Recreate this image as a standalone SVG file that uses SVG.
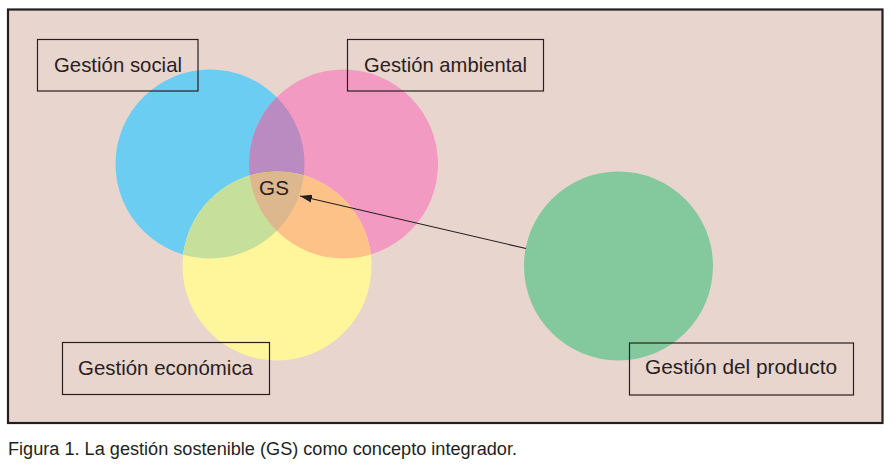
<svg xmlns="http://www.w3.org/2000/svg" width="894" height="471" viewBox="0 0 894 471">
<style>
.lbl{font-family:"Liberation Sans",Arial,sans-serif;font-size:20.6px;fill:#2a1e1e}
.box{fill:none;stroke:#2a1e1e;stroke-width:1.2}
.cap{font-family:"Liberation Sans",Arial,sans-serif;font-size:18px;fill:#231f20}
.conn{stroke:#231f20;stroke-width:1.1;fill:none}
</style>
<defs>
<clipPath id="cBlue"><circle cx="210" cy="164" r="94.5"/></clipPath>
<clipPath id="cPink"><circle cx="343.5" cy="164" r="94.5"/></clipPath>
<clipPath id="cBY" clip-path="url(#cBlue)"><circle cx="277" cy="266" r="94.5"/></clipPath>
<marker id="arr" viewBox="0 0 12 8" refX="12" refY="4" markerWidth="12" markerHeight="8" markerUnits="userSpaceOnUse" orient="auto">
<path d="M0,0 L12,4 L0,8 z" fill="#231f20"/>
</marker>
</defs>
<rect x="0" y="0" width="894" height="471" fill="#ffffff"/>
<rect id="frame" x="8" y="9.5" width="874.5" height="413.5" fill="#e8d5ce" stroke="#231f20" stroke-width="2.2"/>

<g id="social">
<circle cx="210" cy="164" r="94.5" fill="#6ccdf3"/>
<rect class="box" x="37.5" y="39.5" width="160.5" height="51.5"/>
<text class="lbl" x="54" y="72" textLength="128" lengthAdjust="spacingAndGlyphs">Gestión social</text>
</g>
<g id="ambiental">
<circle cx="343.5" cy="164" r="94.5" fill="#f39ac2"/>
<rect class="box" x="347.5" y="39.5" width="196" height="51.5"/>
<text class="lbl" x="364" y="72" textLength="163" lengthAdjust="spacingAndGlyphs">Gestión ambiental</text>
</g>
<g id="economica">
<circle cx="277" cy="266" r="94.5" fill="#fff59b"/>
<rect class="box" x="62.5" y="342.5" width="207" height="52"/>
<text class="lbl" x="78" y="375" textLength="175" lengthAdjust="spacingAndGlyphs">Gestión económica</text>
</g>
<g id="overlaps">
<circle cx="343.5" cy="164" r="94.5" fill="#ba8bc1" clip-path="url(#cBlue)"/>
<circle cx="277" cy="266" r="94.5" fill="#c6e09c" clip-path="url(#cBlue)"/>
<circle cx="277" cy="266" r="94.5" fill="#fdc288" clip-path="url(#cPink)"/>
<circle cx="343.5" cy="164" r="94.5" fill="#ddb78e" clip-path="url(#cBY)"/>
</g>
<g id="producto">
<circle cx="618.5" cy="266" r="94.5" fill="#83c99d"/>
<rect class="box" x="629.5" y="343" width="224" height="52"/>
<text class="lbl" x="645" y="374" textLength="192" lengthAdjust="spacingAndGlyphs">Gestión del producto</text>
</g>
<g id="gs">
<text class="lbl" x="274" y="195" text-anchor="middle">GS</text>
</g>
<g id="connectors">
<line class="conn" x1="526" y1="248.5" x2="300" y2="196" marker-end="url(#arr)"/>
</g>
<text class="cap" x="8" y="455" textLength="509" lengthAdjust="spacingAndGlyphs">Figura 1. La gestión sostenible (GS) como concepto integrador.</text>
</svg>
